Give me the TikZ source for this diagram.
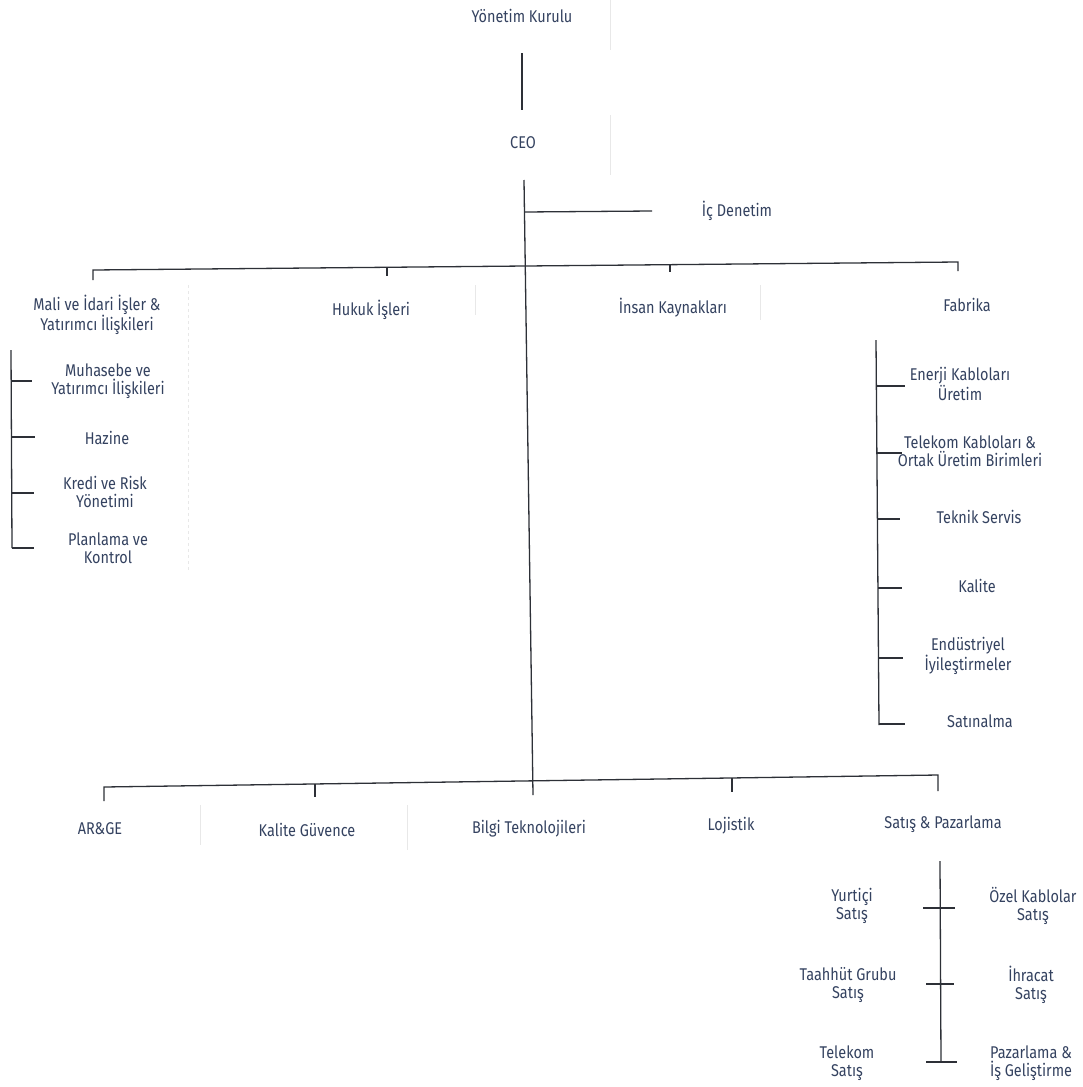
\documentclass[tikz,border=0pt]{standalone}
\usepackage{fontspec}
\setmainfont{Fira Sans}[FakeStretch=0.85]
\definecolor{txt}{RGB}{52,66,96}
\definecolor{lineC}{RGB}{45,48,55}
\begin{document}
\begin{tikzpicture}[x=1pt,y=-1pt,
  lbl/.style={text=txt,font=\fontsize{17}{18.5}\selectfont,align=center,inner sep=0pt},
  ln/.style={draw=lineC,line width=1.3pt},
  ghost/.style={draw=black!9,line width=0.8pt}]
\useasboundingbox[fill=white] (0,0) rectangle (1083,1087);
% faint scan lines
\draw[ghost] (610,0) -- (610,50);
\draw[ghost] (610,115) -- (610,175);
\draw[ghost,dashed] (188,285) -- (188,570);
\draw[ghost] (475,285) -- (475,315);
\draw[ghost] (760,285) -- (760,320);
\draw[ghost] (200,805) -- (200,845);
\draw[ghost] (407,805) -- (407,850);
% nodes
\node[lbl] (yk) at (522,16) {Yönetim Kurulu};
\node[lbl] (ceo) at (523,143) {CEO};
\node[lbl] (ic) at (737,211) {İç Denetim};
\node[lbl] (mali) at (97,315) {Mali ve İdari İşler \&\\Yatırımcı İlişkileri};
\node[lbl] (hukuk) at (371,310) {Hukuk İşleri};
\node[lbl] (ik) at (673,308) {İnsan Kaynakları};
\node[lbl] (fab) at (967,305) {Fabrika};
\node[lbl] (muh) at (108,381) {Muhasebe ve\\Yatırımcı İlişkileri};
\node[lbl] (haz) at (107,438) {Hazine};
\node[lbl] (kredi) at (105,492) {Kredi ve Risk\\Yönetimi};
\node[lbl] (plan) at (108,548) {Planlama ve\\Kontrol};
\node[lbl] (ener) at (960,384) {Enerji Kabloları\\Üretim};
\node[lbl] (tel) at (970,451) {Telekom Kabloları \&\\Ortak Üretim Birimleri};
\node[lbl] (tek) at (979,517) {Teknik Servis};
\node[lbl] (kal) at (977,586) {Kalite};
\node[lbl] (end) at (968,656) {Endüstriyel\\İyileştirmeler};
\node[lbl] (sat) at (980,721) {Satınalma};
\node[lbl] (arge) at (100,829) {AR\&GE};
\node[lbl] (kg) at (307,830) {Kalite Güvence};
\node[lbl] (bt) at (529,829) {Bilgi Teknolojileri};
\node[lbl] (loj) at (731,826) {Lojistik};
\node[lbl] (sp) at (943,824) {Satış \& Pazarlama};
\node[lbl] (yurt) at (852,906) {Yurtiçi\\Satış};
\node[lbl] (taah) at (848,985) {Taahhüt Grubu\\Satış};
\node[lbl] (tels) at (847,1063) {Telekom\\Satış};
\node[lbl] (ozel) at (1033,906) {Özel Kablolar\\Satış};
\node[lbl] (ihr) at (1031,985) {İhracat\\Satış};
\node[lbl] (paz) at (1031,1063) {Pazarlama \&\\İş Geliştirme};
% connector coordinates
\coordinate (ykb) at (522,53);
\coordinate (ceot) at (522,110);
\coordinate (tr1) at (524,180);
\coordinate (tr2) at (533,795);
\coordinate (icj) at (524,212);
\coordinate (ice) at (652,211);
\coordinate (ub1) at (93,280);
\coordinate (ub2) at (93,270);
\coordinate (ub3) at (958,262);
\coordinate (ub4) at (958,271);
\coordinate (hk1) at (387,267);
\coordinate (hk2) at (387,276);
\coordinate (ik1) at (670,265);
\coordinate (ik2) at (670,272);
\coordinate (lb1) at (11,350);
\coordinate (lb2) at (12,548);
\coordinate (fb1) at (876,340);
\coordinate (fb2) at (879,725);
\coordinate (bb1) at (104,801);
\coordinate (bb2) at (104,787);
\coordinate (bb3) at (938,775);
\coordinate (bb4) at (938,791);
\coordinate (kg1) at (315,784);
\coordinate (kg2) at (315,797);
\coordinate (lj1) at (732,778);
\coordinate (lj2) at (732,792);
\coordinate (sb1) at (940,861);
\coordinate (sb2) at (941,1062);
% connectors
\draw[ln] (ykb) -- (ceot);
\draw[ln] (tr1) -- (tr2);
\draw[ln] (icj) -- (ice);
\draw[ln] (ub1) -- (ub2) -- (ub3) -- (ub4);
\draw[ln] (hk1) -- (hk2);
\draw[ln] (ik1) -- (ik2);
\draw[ln] (lb1) -- (lb2);
\draw[ln] (11,381) -- (32,381);
\draw[ln] (12,437) -- (35,437);
\draw[ln] (12,493) -- (34,493);
\draw[ln] (12,548) -- (34,548);
\draw[ln] (fb1) -- (fb2);
\draw[ln] (876,386) -- (905,386);
\draw[ln] (877,453) -- (902,453);
\draw[ln] (877,519) -- (900,519);
\draw[ln] (878,588) -- (902,588);
\draw[ln] (878,658) -- (903,658);
\draw[ln] (879,724) -- (905,724);
\draw[ln] (bb1) -- (bb2) -- (bb3) -- (bb4);
\draw[ln] (kg1) -- (kg2);
\draw[ln] (lj1) -- (lj2);
\draw[ln] (sb1) -- (sb2);
\draw[ln] (923,908) -- (955,908);
\draw[ln] (926,984) -- (954,984);
\draw[ln] (926,1062) -- (957,1062);
\end{tikzpicture}
\end{document}
